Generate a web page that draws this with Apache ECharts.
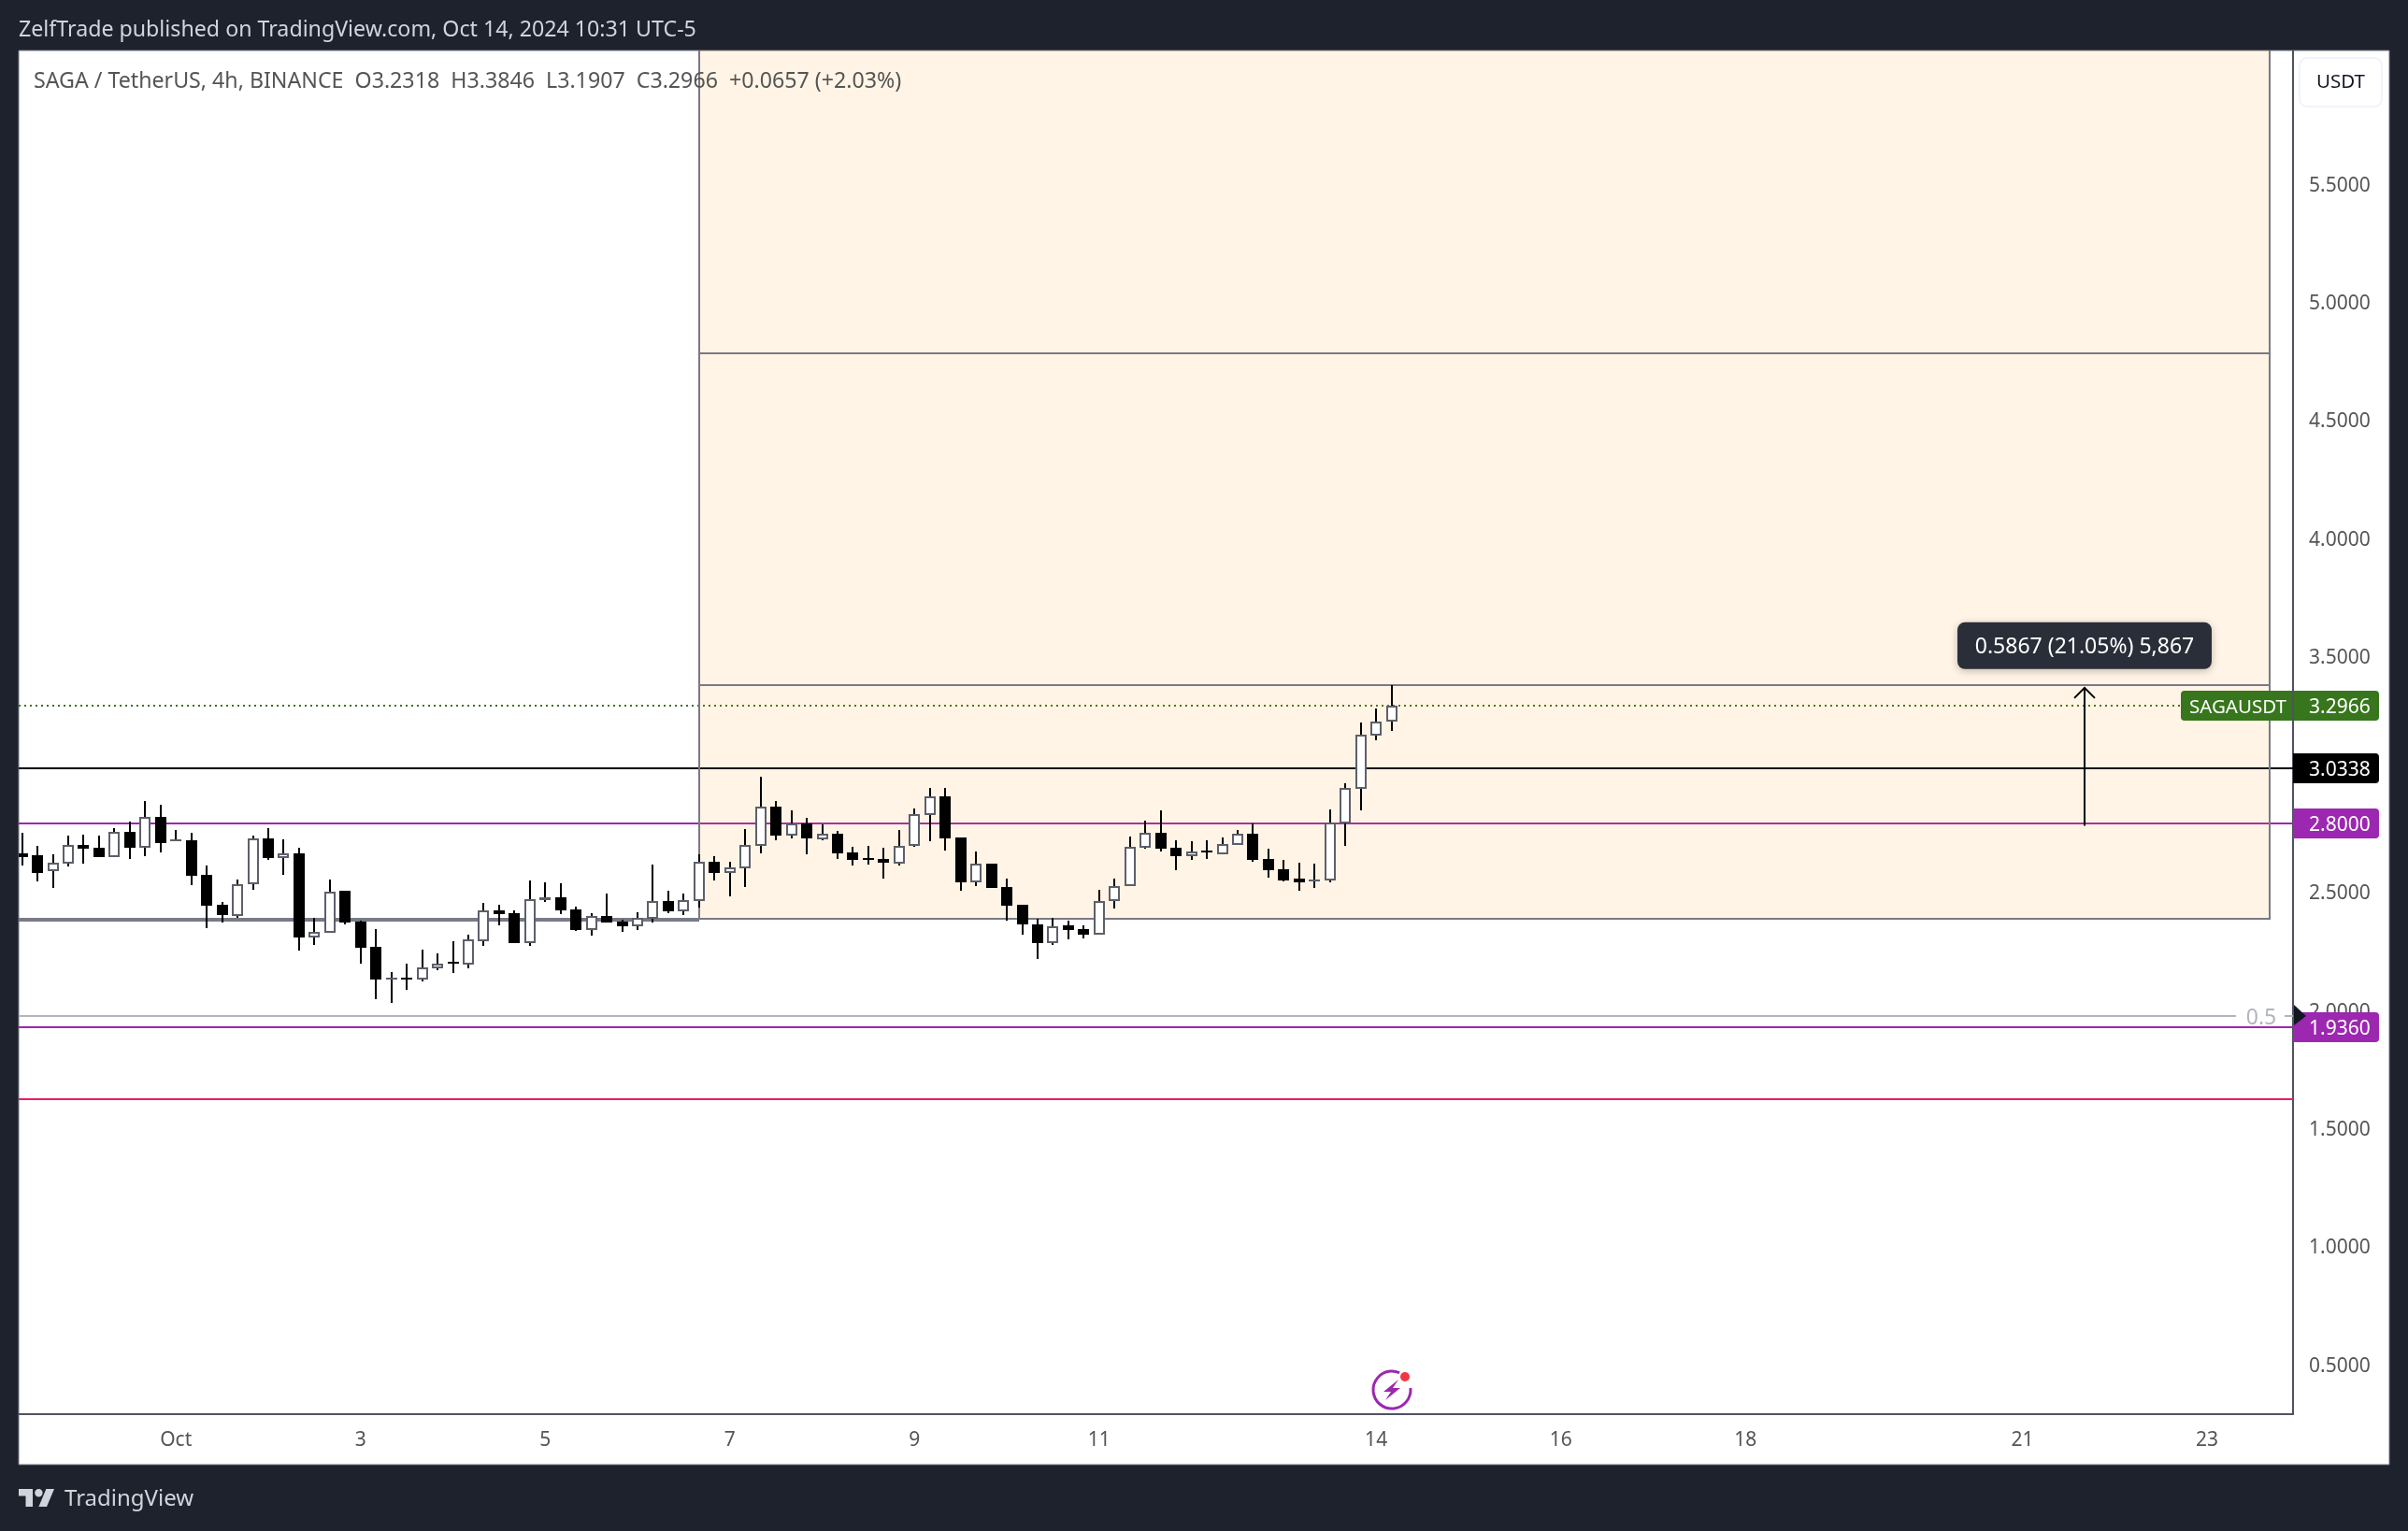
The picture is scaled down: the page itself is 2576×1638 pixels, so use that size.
<!DOCTYPE html>
<html>
<head>
<meta charset="utf-8">
<title>SAGA / TetherUS</title>
<script src="https://cdn.jsdelivr.net/npm/echarts@6/dist/echarts.min.js"></script>
<style>
    html, body { margin: 0; padding: 0; background: #1e222d; }
    #chart { width: 2576px; height: 1638px; }
</style>
</head>
<body>
<div id="chart"></div>
<script>
// ============ data ============
const opens = [2.674, 2.666, 2.595, 2.630, 2.709, 2.694, 2.658, 2.765, 2.694, 2.828,
    2.725, 2.729, 2.583, 2.453, 2.405, 2.540, 2.737, 2.654, 2.674, 2.314,
    2.334, 2.512, 2.385, 2.275, 2.136, 2.144, 2.136, 2.184, 2.211, 2.200,
    2.302, 2.429, 2.417, 2.294, 2.476, 2.488, 2.433, 2.346, 2.405, 2.385,
    2.362, 2.397, 2.472, 2.425, 2.472, 2.638, 2.591, 2.607, 2.705, 2.872,
    2.749, 2.800, 2.733, 2.757, 2.678, 2.654, 2.650, 2.630, 2.702, 2.836,
    2.915, 2.741, 2.551, 2.630, 2.528, 2.453, 2.370, 2.294, 2.366, 2.350,
    2.326, 2.472, 2.532, 2.694, 2.761, 2.694, 2.662, 2.686, 2.670, 2.709,
    2.757, 2.650, 2.603, 2.567, 2.555, 2.559, 2.800, 2.947, 3.172, 3.2318];
const highs = [2.761, 2.7055, 2.670, 2.749, 2.753, 2.749, 2.781, 2.808, 2.895, 2.879,
    2.773, 2.761, 2.619, 2.468, 2.563, 2.749, 2.781, 2.733, 2.694, 2.401,
    2.563, 2.512, 2.389, 2.350, 2.168, 2.204, 2.263, 2.247, 2.302, 2.326,
    2.464, 2.453, 2.429, 2.559, 2.551, 2.547, 2.445, 2.417, 2.500, 2.393,
    2.421, 2.626, 2.512, 2.500, 2.670, 2.662, 2.638, 2.777, 2.998, 2.895,
    2.856, 2.824, 2.796, 2.769, 2.698, 2.705, 2.694, 2.773, 2.864, 2.951,
    2.951, 2.741, 2.682, 2.630, 2.567, 2.453, 2.397, 2.401, 2.389, 2.366,
    2.516, 2.567, 2.745, 2.812, 2.856, 2.729, 2.725, 2.729, 2.741, 2.773,
    2.800, 2.690, 2.646, 2.634, 2.630, 2.860, 2.970, 3.227, 3.287, 3.3846];
const lows = [2.6225, 2.555, 2.524, 2.615, 2.630, 2.658, 2.658, 2.650, 2.662, 2.678,
    2.725, 2.536, 2.354, 2.381, 2.401, 2.516, 2.646, 2.583, 2.259, 2.283,
    2.334, 2.370, 2.204, 2.053, 2.037, 2.093, 2.128, 2.176, 2.164, 2.184,
    2.279, 2.366, 2.294, 2.279, 2.468, 2.413, 2.342, 2.322, 2.381, 2.338,
    2.346, 2.381, 2.417, 2.409, 2.441, 2.559, 2.492, 2.528, 2.674, 2.729,
    2.737, 2.670, 2.729, 2.650, 2.619, 2.626, 2.567, 2.619, 2.698, 2.725,
    2.686, 2.512, 2.532, 2.524, 2.389, 2.326, 2.223, 2.283, 2.306, 2.310,
    2.326, 2.437, 2.532, 2.690, 2.682, 2.599, 2.646, 2.650, 2.670, 2.706,
    2.638, 2.571, 2.555, 2.512, 2.524, 2.551, 2.702, 2.856, 3.152, 3.1907];
const closes = [2.658, 2.591, 2.634, 2.709, 2.690, 2.658, 2.765, 2.694, 2.828, 2.717,
    2.733, 2.579, 2.449, 2.409, 2.543, 2.737, 2.654, 2.674, 2.314, 2.338,
    2.508, 2.381, 2.271, 2.136, 2.144, 2.136, 2.188, 2.207, 2.204, 2.306,
    2.429, 2.413, 2.294, 2.480, 2.488, 2.429, 2.346, 2.405, 2.381, 2.362,
    2.401, 2.472, 2.425, 2.476, 2.638, 2.591, 2.611, 2.709, 2.872, 2.749,
    2.800, 2.737, 2.757, 2.674, 2.646, 2.646, 2.634, 2.705, 2.840, 2.915,
    2.737, 2.551, 2.630, 2.524, 2.449, 2.370, 2.294, 2.362, 2.346, 2.326,
    2.472, 2.532, 2.698, 2.761, 2.690, 2.662, 2.682, 2.678, 2.713, 2.757,
    2.646, 2.599, 2.559, 2.551, 2.563, 2.804, 2.951, 3.176, 3.231, 3.2966];

const priceTicks = [0.5, 1, 1.5, 2, 2.5, 3, 3.5, 4, 4.5, 5, 5.5];
const timeTicks = [10, 22, 34, 46, 58, 70, 88, 100, 112, 130, 142];
const timeLabels = ['Oct', '3', '5', '7', '9', '11', '14', '16', '18', '21', '23'];

const lineLevels = [3.0338, 2.8, 1.936, 1.63];
const lineColors = ['#000000', '#9c27b0', '#9c27b0', '#e91e63'];
const oldRangeLevel = 2.393;
const fibLevel = 1.983;
const lastPrice = 3.2966;

const zoneStart = 44;
const zoneEnd = 146.1;
const zoneLevels = [2.397, 3.3846, 4.789, 6.4];

const arrowIndex = 134.04;
const arrowFrom = 2.789;
const arrowTo = 3.3735;
const arrowText = '0.5867 (21.05%) 5,867';

const tagValues = [3.2966, 3.0338, 2.8, 1.936];
const tagTexts = ['3.2966', '3.0338', '2.8000', '1.9360'];
const tagColors = ['#37761c', '#000000', '#9c27b0', '#9c27b0'];

const FONT = '"Noto Sans", sans-serif';
const GRID = { left: 20, top: 54, width: 2433, height: 1459 };

// ============ render items ============
function renderLevels(params, api) {
    const i = params.dataIndex;
    const y = Math.round(api.coord([0, lineLevels[i]])[1]);
    return {
        type: 'line',
        shape: { x1: GRID.left, y1: y, x2: GRID.left + GRID.width, y2: y },
        style: { stroke: lineColors[i], lineWidth: 2 },
    };
}

function renderExtras(params, api) {
    const rangeY = Math.round(api.coord([0, oldRangeLevel])[1]);
    const fibY = Math.round(api.coord([0, fibLevel])[1]);
    const lastY = Math.round(api.coord([0, lastPrice])[1]);
    const zoneX = Math.round(api.coord([zoneStart, 0])[0]);
    return {
        type: 'group',
        children: [
            { type: 'line', shape: { x1: GRID.left, y1: rangeY, x2: zoneX, y2: rangeY }, style: { stroke: '#787b86', lineWidth: 4 } },
            { type: 'line', shape: { x1: GRID.left, y1: fibY, x2: 2392, y2: fibY }, style: { stroke: '#b2b5be', lineWidth: 2 } },
            { type: 'line', shape: { x1: 2444, y1: fibY, x2: 2453, y2: fibY }, style: { stroke: '#b2b5be', lineWidth: 2 } },
            { type: 'text', style: { text: '0.5', x: 2419, y: fibY + 2, fill: '#b2b5be', font: '23px ' + FONT, align: 'center', verticalAlign: 'middle' } },
            { type: 'line', shape: { x1: GRID.left, y1: lastY, x2: 2333, y2: lastY }, style: { stroke: '#37761c', lineWidth: 2, lineDash: [2, 4] } },
        ],
    };
}

function renderZone(params, api) {
    const x1 = Math.round(api.coord([zoneStart, 0])[0]);
    const x2 = Math.round(api.coord([zoneEnd, 0])[0]);
    const ys = zoneLevels.map(v => Math.round(api.coord([0, v])[1]));
    const children = [{
        type: 'rect',
        shape: { x: x1, y: ys[3], width: x2 - x1, height: ys[0] - ys[3] },
        style: { fill: 'rgba(255,152,0,0.1)', stroke: '#787b86', lineWidth: 2 },
    }];
    ys.slice(1, 3).forEach(y => {
        children.push({ type: 'line', shape: { x1: x1, y1: y, x2: x2, y2: y }, style: { stroke: '#787b86', lineWidth: 2 } });
    });
    return { type: 'group', children };
}

function renderCandle(params, api) {
    const p = api.coord([api.value(0), api.value(1)]);
    const x = Math.round(p[0]);
    const o = p[1];
    const c = api.coord([api.value(0), api.value(2)])[1];
    const l = api.coord([api.value(0), api.value(3)])[1];
    const h = api.coord([api.value(0), api.value(4)])[1];
    const up = api.value(2) >= api.value(1);
    const top = Math.round(Math.min(o, c));
    const bot = Math.max(Math.round(Math.max(o, c)), top + 2);
    const children = [{
        type: 'rect',
        shape: { x: x - 1, y: Math.round(h), width: 2, height: Math.round(l) - Math.round(h) },
        style: { fill: '#000000' },
    }];
    if (up) {
        children.push({ type: 'rect', shape: { x: x - 6, y: top, width: 12, height: bot - top }, style: { fill: '#5d606b' } });
        if (bot - top > 4) {
            children.push({ type: 'rect', shape: { x: x - 4, y: top + 2, width: 8, height: bot - top - 4 }, style: { fill: '#ffffff' } });
        }
    } else {
        children.push({ type: 'rect', shape: { x: x - 6, y: top, width: 12, height: bot - top }, style: { fill: '#000000' } });
    }
    return { type: 'group', children };
}

function renderArrow(params, api) {
    const x = Math.round(api.coord([arrowIndex, 0])[0]);
    const y1 = api.coord([arrowIndex, arrowFrom])[1];
    const y2 = api.coord([arrowIndex, arrowTo])[1];
    return {
        type: 'group',
        children: [
            { type: 'line', shape: { x1: x, y1: y1, x2: x, y2: y2 }, style: { stroke: '#000000', lineWidth: 2 } },
            { type: 'polyline', shape: { points: [[x - 11, y2 + 11], [x, y2], [x + 11, y2 + 11]] }, style: { stroke: '#000000', lineWidth: 2, fill: 'none' } },
            {
                type: 'rect',
                shape: { x: x - 136, y: y2 - 70, width: 272, height: 50, r: 8 },
                style: { fill: '#2a2e39', shadowBlur: 8, shadowColor: 'rgba(0,0,0,0.25)', shadowOffsetY: 2 },
            },
            { type: 'text', style: { text: arrowText, x: x, y: y2 - 43, fill: '#ffffff', font: '23px ' + FONT, align: 'center', verticalAlign: 'middle' } },
        ],
    };
}

function renderTag(params, api) {
    const i = params.dataIndex;
    const y = Math.round(api.coord([0, tagValues[i]])[1]);
    const axisX = GRID.left + GRID.width;
    const children = [];
    if (i === 0) {
        children.push(
            { type: 'rect', shape: { x: 2333, y: y - 16, width: 212, height: 32, r: 4 }, style: { fill: tagColors[i] } },
            { type: 'text', style: { text: 'SAGAUSDT', x: 2342, y: y + 2, fill: '#ffffff', font: '20.5px ' + FONT, align: 'left', verticalAlign: 'middle' } },
            { type: 'rect', shape: { x: axisX - 1, y: y - 16, width: 2, height: 32 }, style: { fill: '#50535e' } }
        );
    } else {
        children.push({ type: 'rect', shape: { x: axisX, y: y - 16, width: 92, height: 32, r: [0, 4, 4, 0] }, style: { fill: tagColors[i] } });
    }
    children.push({ type: 'text', style: { text: tagTexts[i], x: 2470, y: y + 2, fill: '#ffffff', font: '21px ' + FONT, align: 'left', verticalAlign: 'middle' } });
    return { type: 'group', children };
}

function renderFibMark(params, api) {
    const y = Math.round(api.coord([0, fibLevel])[1]);
    const axisX = GRID.left + GRID.width + 1;
    return {
        type: 'polygon',
        shape: { points: [[axisX, y - 12], [axisX + 13, y], [axisX, y + 10]] },
        style: { fill: '#131722' },
    };
}

// ============ chart ============
const chart = echarts.init(document.getElementById('chart'));

chart.setOption({
    animation: false,
    backgroundColor: '#1e222d',
    grid: { left: GRID.left, top: GRID.top, width: GRID.width, height: GRID.height, containLabel: false },
    xAxis: {
        type: 'value',
        min: -0.22,
        max: 147.59,
        splitLine: { show: false },
        axisTick: { show: false },
        axisLine: { show: true, onZero: false, lineStyle: { color: '#50535e', width: 2 } },
        axisLabel: {
            customValues: timeTicks,
            formatter: v => timeLabels[timeTicks.indexOf(v)],
            color: '#555555',
            fontFamily: FONT,
            fontSize: 21,
            margin: 18,
            hideOverlap: false,
        },
    },
    yAxis: {
        type: 'value',
        position: 'right',
        min: 0.2969,
        max: 6.0728,
        scale: true,
        splitLine: { show: false },
        axisTick: { show: false },
        axisLine: { show: true, onZero: false, lineStyle: { color: '#50535e', width: 2 } },
        axisLabel: {
            customValues: priceTicks,
            formatter: v => v.toFixed(4),
            color: '#555555',
            fontFamily: FONT,
            fontSize: 21,
            margin: 17,
            padding: [4, 0, 0, 0],
            hideOverlap: false,
        },
    },
    series: [
        { type: 'custom', z: 2, clip: true, silent: true, data: lineLevels.map(v => [0, v]), renderItem: renderLevels },
        { type: 'custom', z: 2, clip: true, silent: true, data: [[0, oldRangeLevel]], renderItem: renderExtras },
        { type: 'custom', z: 3, clip: true, silent: true, data: [[zoneStart, zoneLevels[0]]], renderItem: renderZone },
        {
            type: 'custom',
            z: 4,
            clip: true,
            silent: true,
            data: opens.map((o, i) => [i, o, closes[i], lows[i], highs[i]]),
            encode: { x: 0, y: [1, 2, 3, 4] },
            renderItem: renderCandle,
        },
        { type: 'custom', z: 5, silent: true, data: [[arrowIndex, arrowTo]], renderItem: renderArrow },
        { type: 'custom', z: 6, silent: true, data: tagValues.map(v => [0, v]), renderItem: renderTag },
        { type: 'custom', z: 7, silent: true, data: [[0, fibLevel]], renderItem: renderFibMark },
    ],
    graphic: {
        elements: [
            // 白色面板
            { type: 'rect', z: -10, shape: { x: 20, y: 54, width: 2536, height: 1513 }, style: { fill: '#ffffff', stroke: '#787b86', lineWidth: 1 } },
            { type: 'text', z: 20, x: 20, y: 32, style: { text: 'ZelfTrade published on TradingView.com, Oct 14, 2024 10:31 UTC-5', fill: '#d1d4dc', font: '23.2px ' + FONT, verticalAlign: 'middle' } },
            { type: 'text', z: 20, x: 36, y: 87, style: { text: 'SAGA / TetherUS, 4h, BINANCE  O3.2318  H3.3846  L3.1907  C3.2966  +0.0657 (+2.03%)', fill: '#555555', font: '23.2px ' + FONT, verticalAlign: 'middle' } },
            // 币种按钮
            { type: 'rect', z: 20, shape: { x: 2460, y: 62, width: 88, height: 52, r: 8 }, style: { fill: '#ffffff', stroke: '#f0f3fa', lineWidth: 2 } },
            { type: 'text', z: 21, x: 2504, y: 88, style: { text: 'USDT', fill: '#131722', font: '20.5px ' + FONT, align: 'center', verticalAlign: 'middle' } },
            // TradingView 标志
            { type: 'polygon', z: 20, shape: { points: [[35, 1612], [27.5, 1612], [27.5, 1600.4], [20, 1600.4], [20, 1593], [35, 1593]] }, style: { fill: '#d1d4dc' } },
            { type: 'polygon', z: 20, shape: { points: [[50, 1612], [41.4, 1612], [49.4, 1593], [58, 1593]] }, style: { fill: '#d1d4dc' } },
            { type: 'circle', z: 20, shape: { cx: 41.4, cy: 1597.2, r: 4.2 }, style: { fill: '#d1d4dc' } },
            { type: 'text', z: 20, x: 69, y: 1604, style: { text: 'TradingView', fill: '#d1d4dc', font: '24px ' + FONT, verticalAlign: 'middle' } },
            // 闪电图标
            { type: 'arc', z: 20, shape: { cx: 1489, cy: 1487, r: 20, startAngle: -0.1, endAngle: -1.15, clockwise: true }, style: { stroke: '#9c27b0', lineWidth: 3, fill: 'none' } },
            { type: 'polygon', z: 20, shape: { points: [[1496, 1476], [1480, 1489], [1488, 1489], [1482, 1498], [1498, 1485], [1490, 1485]] }, style: { fill: '#9c27b0' } },
            { type: 'circle', z: 20, shape: { cx: 1503, cy: 1473, r: 5 }, style: { fill: '#f23645' } },
        ],
    },
});
</script>
</body>
</html>
